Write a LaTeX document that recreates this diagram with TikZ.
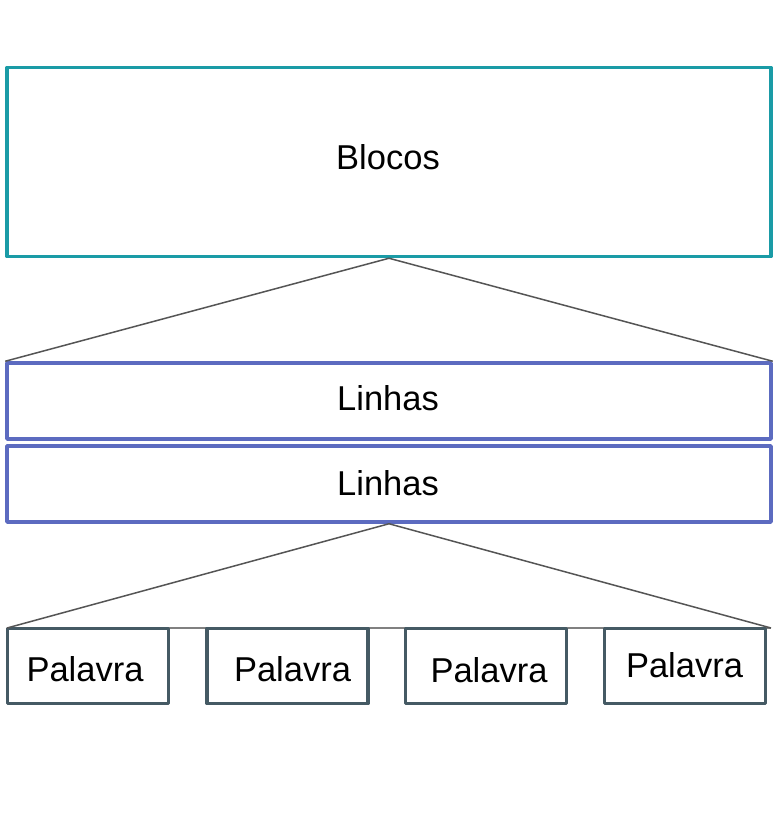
\documentclass[tikz,border=0pt]{standalone}
\usepackage{fontspec}
\setmainfont{Liberation Sans}
\definecolor{tealc}{HTML}{1A9BA6}
\definecolor{indc}{HTML}{5C6BC0}
\definecolor{slatec}{HTML}{455A64}
\definecolor{linec}{HTML}{555555}
\definecolor{hlinec}{HTML}{808080}
\begin{document}
\begin{tikzpicture}[x=1pt,y=-1pt,
  box/.style={draw,line width=3.5pt,line join=round,inner sep=0pt,fill=white},
  blockbox/.style={box,draw=tealc},
  linebox/.style={box,draw=indc},
  wordbox/.style={box,draw=slatec,minimum width=161pt,minimum height=75pt},
  lbl/.style={inner sep=0pt,font=\fontsize{34.5}{40}\selectfont},
  conn/.style={draw=linec,line width=1.5pt},
  hconn/.style={draw=hlinec,line width=1.1pt}]
\useasboundingbox (0,0) rectangle (777,813);
\fill[white] (0,0) rectangle (777,813);
% positions
\coordinate (wl) at (7,628);
\coordinate (wr) at (771,628);
\draw[hconn] (wl) -- (wr);
\node[blockbox,minimum width=764pt,minimum height=189pt] (blocos) at (389,162) {};
\node[linebox,minimum width=764pt,minimum height=76pt] (lin1) at (389,401) {};
\node[linebox,minimum width=764pt,minimum height=76pt] (lin2) at (389,484) {};
\node[wordbox] (w1) at (88,666) {};
\node[wordbox] (w2) at (287.5,666) {};
\node[wordbox] (w3) at (486,666) {};
\node[wordbox] (w4) at (685,666) {};
\node[lbl] at (388,157.5) {Blocos};
\node[lbl] at (388,398) {Linhas};
\node[lbl] at (388,483) {Linhas};
\node[lbl] at (85,669) {Palavra};
\node[lbl] at (292.5,669.5) {Palavra};
\node[lbl] at (489,670) {Palavra};
\node[lbl] at (684.5,665.5) {Palavra};
% connectors
\draw[conn] (blocos.south) -- (lin1.north west);
\draw[conn] (blocos.south) -- (lin1.north east);
\draw[conn] (lin2.south) -- (wl);
\draw[conn] (lin2.south) -- (wr);
\end{tikzpicture}
\end{document}
